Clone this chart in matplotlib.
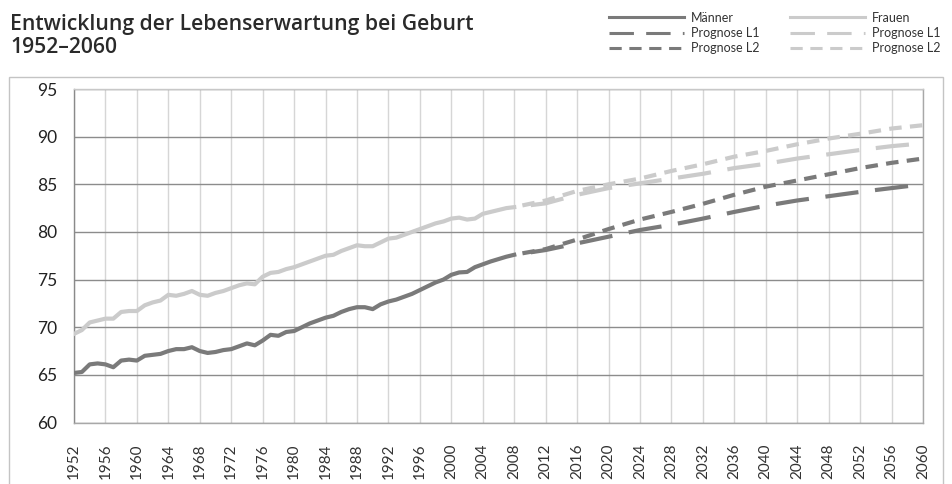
import matplotlib
matplotlib.use("Agg")
import matplotlib.pyplot as plt
from matplotlib.lines import Line2D
from matplotlib.patches import Rectangle

# Beobachtete Werte 1952-2008
years_hist = list(range(1952, 2009))
maenner = [65.2, 65.3, 66.1, 66.2, 66.1, 65.8, 66.5, 66.6, 66.5, 67.0,
           67.1, 67.2, 67.5, 67.7, 67.7, 67.9, 67.5, 67.3, 67.4, 67.6,
           67.7, 68.0, 68.3, 68.1, 68.6, 69.2, 69.1, 69.5, 69.6, 70.0,
           70.4, 70.7, 71.0, 71.2, 71.6, 71.9, 72.1, 72.1, 71.9, 72.4,
           72.7, 72.9, 73.2, 73.5, 73.9, 74.3, 74.7, 75.0, 75.5, 75.75,
           75.8, 76.3, 76.6, 76.9, 77.15, 77.4, 77.6]
frauen = [69.3, 69.7, 70.5, 70.7, 70.9, 70.9, 71.6, 71.7, 71.7, 72.3,
          72.6, 72.8, 73.4, 73.3, 73.5, 73.8, 73.4, 73.3, 73.6, 73.8,
          74.1, 74.4, 74.6, 74.5, 75.3, 75.7, 75.8, 76.1, 76.3, 76.6,
          76.9, 77.2, 77.5, 77.6, 78.0, 78.3, 78.6, 78.5, 78.5, 78.9,
          79.3, 79.4, 79.7, 80.0, 80.3, 80.6, 80.9, 81.1, 81.4, 81.5,
          81.3, 81.4, 81.9, 82.1, 82.3, 82.5, 82.6]

# Prognosen
years_prog = list(range(2008, 2061, 4))
maenner_l1 = [77.6, 78.1, 78.8, 79.5, 80.2, 80.75, 81.4, 82.1, 82.75, 83.3, 83.75, 84.2, 84.6, 85.0]
maenner_l2 = [77.6, 78.2, 79.2, 80.3, 81.3, 82.1, 82.95, 83.9, 84.75, 85.4, 86.05, 86.7, 87.25, 87.7]
frauen_l1 = [82.6, 83.0, 83.9, 84.6, 85.1, 85.6, 86.1, 86.7, 87.15, 87.7, 88.15, 88.6, 89.0, 89.3]
frauen_l2 = [82.6, 83.3, 84.3, 85.0, 85.6, 86.4, 87.1, 87.9, 88.5, 89.2, 89.8, 90.3, 90.85, 91.2]

x_ticks = list(range(1952, 2057, 4)) + [2060]
y_ticks = [60, 65, 70, 75, 80, 85, 90, 95]

dunkel = "#7a7a7a"
hell = "#cbcbcb"

plt.rcParams["font.family"] = ["Lato", "DejaVu Sans"]

fig = plt.figure(figsize=(9.52, 4.84), dpi=100)
ax = fig.add_axes([74 / 952, 1 - 422.5 / 484, (923 - 74) / 952, (422.5 - 89) / 484])

lw = 3.0
lang = (8, (8, 4))   # beginnt mit Lücke
kurz = (3, (3, 2))
ax.plot(years_hist, frauen, color=hell, lw=lw, solid_joinstyle="round", zorder=3)
ax.plot(years_hist, maenner, color=dunkel, lw=lw, solid_joinstyle="round", zorder=3)
ax.plot(years_prog, frauen_l1, color=hell, lw=lw, linestyle=lang, zorder=3)
ax.plot(years_prog, frauen_l2, color=hell, lw=lw, linestyle=kurz, zorder=3)
ax.plot(years_prog, maenner_l1, color=dunkel, lw=lw, linestyle=lang, zorder=3)
ax.plot(years_prog, maenner_l2, color=dunkel, lw=lw, linestyle=kurz, zorder=3)

ax.set_xlim(1952, 2060)
ax.set_ylim(60, 95)
ax.set_xticks(x_ticks)
ax.set_xticklabels([str(j) for j in x_ticks], rotation=90, fontsize=11, color="#333333")
ax.set_yticks(y_ticks)
ax.set_yticklabels([str(v) for v in y_ticks], fontsize=12.5, color="#222222")
ax.tick_params(axis="x", length=0, pad=15)
ax.tick_params(axis="y", length=0, pad=12)

# Gitter: vertikal hell, horizontal dunkler
ax.grid(axis="x", color="#d6d6d6", lw=1.0, zorder=1)
ax.grid(axis="y", color="#8c8c8c", lw=1.0, zorder=1)

ax.spines["top"].set_color("#c8c8c8")
ax.spines["right"].set_color("#a8a8a8")
ax.spines["left"].set_color("#8a8a8a")
ax.spines["bottom"].set_color("#a8a8a8")
for s in ax.spines.values():
    s.set_linewidth(1.0)

# äußerer Rahmen
fig.patches.append(Rectangle((9 / 952, -0.1), 934 / 952, 1.1 - 77 / 484,
                             transform=fig.transFigure, fill=False,
                             edgecolor="#c4c4c4", lw=1.0))

titel_font = dict(family=["Open Sans", "DejaVu Sans"], fontsize=15.2, fontweight="semibold",
                  color="#2a2a2a", va="baseline")
fig.text(10 / 952, 1 - 30 / 484, "Entwicklung der Lebenserwartung bei Geburt", **titel_font)
fig.text(10 / 952, 1 - 53 / 484, "1952–2060", **titel_font)

handles = [
    Line2D([], [], color=dunkel, lw=2.2),
    Line2D([], [], color=dunkel, lw=2.2, dashes=(8, 4)),
    Line2D([], [], color=dunkel, lw=2.2, dashes=(4, 2.5)),
    Line2D([], [], color=hell, lw=2.2),
    Line2D([], [], color=hell, lw=2.2, dashes=(8, 4)),
    Line2D([], [], color=hell, lw=2.2, dashes=(4, 2.5)),
]
labels = ["Männer", "Prognose L1", "Prognose L2", "Frauen", "Prognose L1", "Prognose L2"]
fig.legend(handles, labels, ncol=2, loc="upper left", bbox_to_anchor=(600 / 952, 1 - 3 / 484),
           frameon=False, fontsize=9, handlelength=6.0, handletextpad=0.6,
           columnspacing=2.4, labelspacing=0.25, borderpad=0.2, labelcolor="#333333")

fig.savefig("out.png", dpi=100)
